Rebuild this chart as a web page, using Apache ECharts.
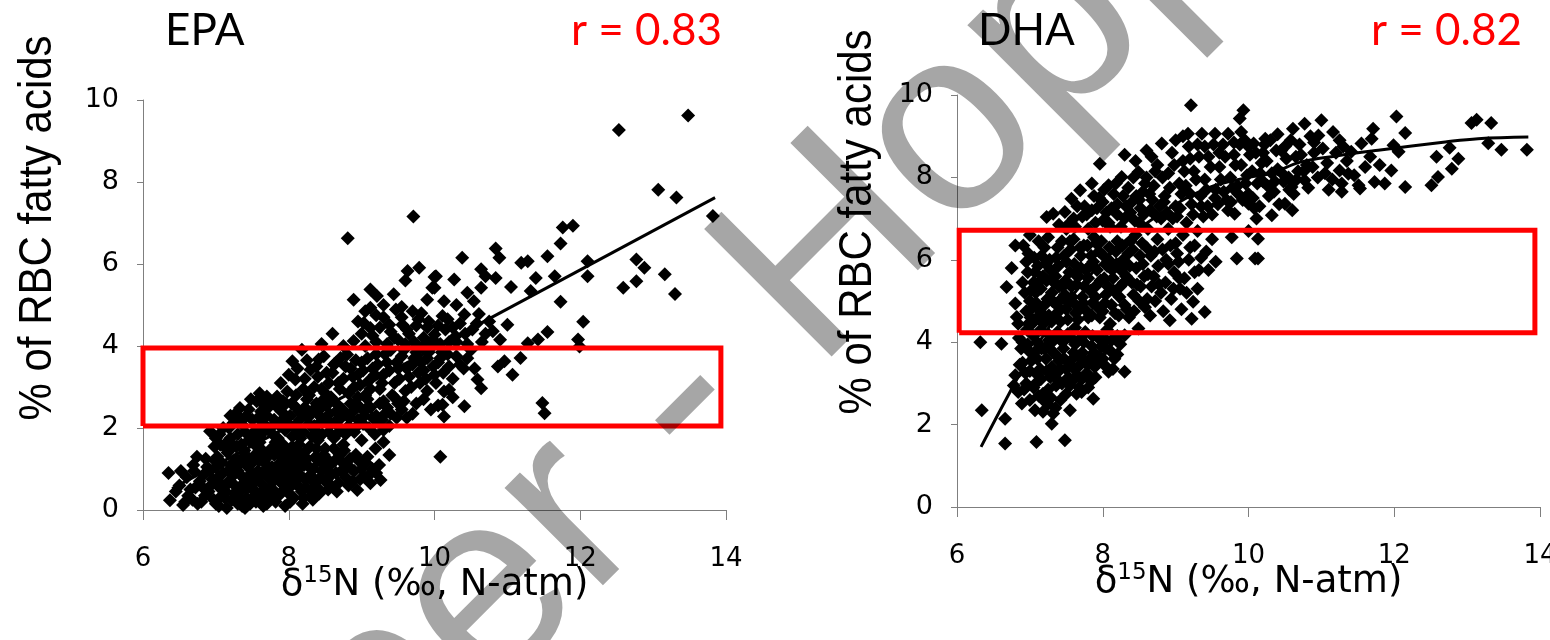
<!DOCTYPE html>
<html>
<head>
<meta charset="utf-8">
<script src="https://cdn.jsdelivr.net/npm/echarts@6/dist/echarts.min.js"></script>
<style>
  html, body { margin: 0; padding: 0; background: #fff; }
  #chart { width: 1550px; height: 640px; }
</style>
</head>
<body>
<div id="chart"></div>
<script>
// values: [δ15N, % of RBC fatty acids]
const epaPoints = [
  [6.37,0.24],[6.35,0.90],[6.55,0.12],[6.62,0.35],[6.69,1.10],[6.83,0.86],[6.72,0.55],[6.8,0.2],[6.9,0.45],[6.95,0.75],
  [6.88,1.05],[7.0,0.15],[7.05,0.55],[7.1,0.9],[7.02,1.3],[7.12,0.3],[7.18,0.7],[7.2,1.1],[7.25,0.4],[7.3,0.15],
  [7.3,0.95],[7.35,0.6],[7.38,1.3],[7.42,0.3],[7.45,0.8],[7.5,1.15],[7.5,0.5],[7.55,0.2],[7.58,0.95],[7.6,1.45],
  [7.62,0.65],[7.68,0.35],[7.7,1.1],[7.72,0.8],[7.78,0.5],[7.8,1.35],[7.82,0.2],[7.85,0.95],[7.9,0.65],[7.92,1.6],
  [7.95,1.2],[8.0,0.4],[8.02,0.85],[8.08,1.4],[8.12,0.6],[8.15,1.05],[8.2,0.3],[8.25,1.25],[8.3,0.49],[8.3,0.85],
  [8.38,1.5],[8.45,0.95],[8.5,0.7],[8.6,0.57],[8.55,1.2],[8.65,0.9],[8.7,1.35],[8.8,1.05],[8.94,0.49],[8.9,0.95],
  [9.0,1.0],[9.1,0.85],[9.26,0.73],[9.24,1.10],[9.19,1.5],[9.38,1.34],[9.3,1.66],[7.15,0.05],[7.4,0.05],[7.65,0.1],
  [7.95,0.1],[6.98,1.55],[7.28,1.55],[7.45,1.7],[6.5,0.6],[6.6,0.8],[10.08,1.3],
  [6.75,0.15],[6.78,0.7],[6.85,0.35],[6.92,0.95],[6.97,0.25],[7.03,0.8],[7.08,0.35],[7.08,1.15],[7.14,0.6],[7.16,1.4],
  [7.22,0.25],[7.24,0.85],[7.28,1.25],[7.33,0.45],[7.36,0.1],[7.4,0.75],[7.44,1.05],[7.47,0.15],[7.52,0.65],[7.54,1.35],
  [7.57,0.4],[7.63,0.9],[7.66,1.2],[7.7,0.15],[7.74,0.55],[7.76,1.5],[7.8,0.85],[7.86,0.35],[7.88,1.15],[7.93,0.8],
  [7.97,1.45],[8.02,0.2],[8.04,0.6],[8.06,1.1],[8.1,0.9],[8.14,1.6],[8.18,0.45],[8.22,0.75],[8.24,1.45],[8.28,1.05],
  [8.33,0.25],[8.36,0.65],[8.4,1.2],[8.42,0.4],[8.48,1.35],[8.52,1.0],[8.58,0.85],[8.62,1.5],[8.68,0.65],[8.74,1.15],
  [8.78,0.8],[8.84,1.25],[8.88,0.7],[8.96,1.2],[9.04,0.8],[9.08,1.3],[9.15,1.0],[6.65,0.5],[6.58,0.2],[6.7,0.95],
  [7.0,1.05],[7.35,1.6],[7.6,1.65],[7.82,1.65],[8.05,1.55],
  [6.45,0.45],[6.52,0.95],[6.68,0.25],[6.74,1.3],[6.82,0.55],[6.86,1.25],[6.93,0.6],[6.99,1.2],[7.04,0.1],[7.06,0.65],
  [7.11,1.55],[7.13,0.45],[7.17,0.95],[7.21,1.5],[7.26,0.6],[7.27,1.0],[7.31,0.3],[7.34,1.15],[7.37,0.8],[7.39,1.45],
  [7.43,0.55],[7.46,1.25],[7.49,0.9],[7.51,0.3],[7.53,1.6],[7.56,0.75],[7.59,1.2],[7.61,0.25],[7.64,1.45],[7.67,0.5],
  [7.69,0.9],[7.71,1.3],[7.73,0.3],[7.77,1.05],[7.79,0.7],[7.83,0.4],[7.84,1.5],[7.87,0.75],[7.89,1.3],[7.91,0.45],
  [7.94,1.0],[7.99,0.6],[8.01,1.3],[8.03,1.0],[8.07,0.3],[8.09,0.75],[8.11,1.2],[8.16,0.85],[8.17,1.35],[8.19,0.15],
  [8.21,1.1],[8.23,0.55],[8.27,0.8],[8.29,1.55],[8.31,0.35],[8.34,1.0],[8.37,1.3],[8.39,0.55],[8.44,0.8],[8.46,1.15],
  [8.5,1.5],[8.54,0.5],[8.57,1.1],[8.63,1.2],[8.66,0.45],[8.72,0.95],[8.76,1.45],[8.82,0.6],[8.86,1.0],[8.92,1.35],
  [8.98,0.75],[9.06,1.15],[9.12,0.65],[9.2,0.9],
  [6.92,1.92],[7.06,1.59],[7.2,1.75],[7.24,2.12],[7.33,2.49],[7.4,1.9],[7.5,2.2],[7.56,2.65],[7.6,1.8],[7.7,2.77],
  [7.7,2.3],[7.75,2.0],[7.84,2.77],[7.85,1.75],[7.9,2.4],[7.98,2.89],[8.0,2.1],[8.05,1.8],[8.1,2.5],[8.15,2.2],
  [8.2,1.9],[8.25,2.7],[8.3,2.35],[8.35,2.05],[8.4,1.7],[8.45,2.5],[8.5,2.2],[8.55,1.9],[8.6,2.7],[8.65,2.4],
  [8.7,2.0],[8.75,1.6],[8.8,2.3],[8.85,2.6],[8.9,1.9],[8.95,2.2],[9.0,1.7],[9.05,2.45],[9.1,2.0],[9.2,2.3],
  [9.3,1.95],[9.35,2.5],
  [7.0,1.75],[7.1,2.0],[7.15,1.65],[7.3,1.85],[7.35,2.2],[7.45,2.45],[7.55,1.95],[7.62,2.4],[7.66,2.1],[7.8,2.2],
  [7.82,2.55],[7.95,1.95],[7.96,2.6],[8.02,2.3],[8.12,1.95],[8.18,2.35],[8.28,2.1],[8.32,1.8],[8.38,2.6],[8.42,2.3],
  [8.52,2.55],[8.58,2.1],[8.62,1.75],[8.68,2.55],[8.72,2.25],[8.82,2.05],[8.88,2.4],[8.98,2.5],[9.02,2.1],[9.08,2.7],
  [9.15,2.25],[9.25,2.6],[9.28,2.2],[9.4,2.35],[9.45,2.75],[9.55,2.45],[7.2,2.3],[7.48,2.7],[7.6,2.85],[7.75,2.65],
  [7.05,1.85],[7.18,2.0],[7.22,1.6],[7.27,2.35],[7.38,2.05],[7.42,2.3],[7.52,1.8],[7.58,2.25],[7.64,2.6],[7.68,1.95],
  [7.72,2.5],[7.78,1.85],[7.88,2.05],[7.92,2.65],[7.94,2.25],[8.04,2.6],[8.08,2.05],[8.14,2.4],[8.16,1.75],[8.22,2.5],
  [8.26,2.25],[8.34,2.45],[8.36,1.95],[8.44,2.15],[8.46,1.85],[8.48,2.7],[8.56,2.35],[8.64,2.15],[8.66,1.85],[8.74,2.45],
  [8.78,1.85],[8.84,2.25],[8.92,2.6],[8.94,2.05],[9.04,2.3],[9.12,2.5],[9.18,1.85],[9.22,2.15],[9.32,2.35],[9.38,2.05],
  [9.48,2.25],[9.58,2.65],[9.62,2.25],
  [7.89,3.10],[8.09,3.18],[8.05,3.63],[8.18,3.91],[8.3,3.42],[8.41,3.67],[8.62,3.55],[8.71,3.71],[8.80,3.79],[8.2,2.95],
  [8.35,3.0],[8.4,3.25],[8.5,2.85],[8.55,3.1],[8.6,3.35],[8.7,2.95],[8.75,3.2],[8.85,3.45],[8.9,3.0],[8.95,3.3],
  [9.0,3.6],[9.05,2.8],[9.1,3.15],[9.15,3.45],[9.2,3.8],[9.25,2.95],[9.3,3.3],[9.35,3.6],[9.4,3.9],[9.45,3.1],
  [9.5,3.45],[9.55,3.75],[9.6,2.9],[9.65,3.25],[9.7,3.55],[9.75,3.85],[9.8,3.1],[9.85,3.4],[9.9,3.7],[9.95,3.95],
  [10.0,3.3],[10.05,3.6],[10.1,3.85],[10.13,2.89],[10.2,2.93],[10.11,2.57],[10.13,2.28],[10.41,2.53],[10.59,3.18],[10.64,2.97],
  [9.5,2.6],[9.7,2.35],[9.85,2.7],[9.95,2.45],[9.3,2.65],[8.95,2.75],[10.2,3.5],[10.3,3.75],[10.4,3.45],[10.5,3.9],
  [10.87,3.50],[10.96,3.63],[11.18,3.71],[11.07,3.30],[11.48,2.61],[11.51,2.36],
  [8.0,3.3],[8.1,2.8],[8.12,3.45],[8.22,3.2],[8.25,3.65],[8.28,2.8],[8.38,3.5],[8.45,2.95],[8.48,3.75],[8.52,3.35],
  [8.58,2.75],[8.65,3.6],[8.68,3.1],[8.78,3.5],[8.82,2.85],[8.88,3.25],[8.92,3.65],[8.98,3.05],[9.02,3.4],[9.08,3.7],
  [9.12,2.95],[9.18,3.3],[9.22,3.55],[9.28,3.1],[9.32,3.8],[9.38,3.4],[9.42,2.8],[9.48,3.6],[9.52,3.2],[9.58,3.9],
  [9.62,3.45],[9.68,3.0],[9.72,3.7],[9.78,3.35],[9.82,3.6],[9.88,3.2],[9.92,3.85],[9.98,3.5],[10.02,3.1],[10.08,3.7],
  [10.12,3.35],[10.18,3.8],[10.25,3.2],[10.35,3.55],[10.45,3.7],[10.55,3.45],[10.25,2.75],[9.9,2.9],[9.75,2.6],[10.05,2.55],
  [8.89,4.12],[9.03,4.56],[9.12,4.44],[9.38,4.52],[9.56,4.52],[9.78,4.65],[9.12,4.93],[9.47,4.89],[9.0,4.3],[9.2,4.1],
  [9.3,4.7],[9.45,4.2],[9.6,4.05],[9.65,4.3],[9.7,4.85],[9.85,4.2],[9.9,4.45],[9.95,4.0],[10.0,4.28],[10.11,4.73],
  [10.13,5.09],[10.29,4.24],[10.41,4.77],[10.52,4.40],[10.61,4.78],[10.54,5.09],[10.8,4.36],[11.0,4.52],[10.2,4.1],[10.35,4.55],
  [10.15,4.4],[10.65,4.1],[11.28,4.07],[11.42,4.16],[11.55,4.34],[11.97,4.16],[11.99,3.99],[12.04,4.59],[8.75,4.0],[9.8,3.95],
  [9.05,4.0],[9.15,4.25],[9.25,4.45],[9.35,4.05],[9.4,4.35],[9.5,4.15],[9.55,4.7],[9.62,4.4],[9.72,4.1],[9.75,4.5],
  [9.82,4.8],[9.88,4.05],[9.92,4.6],[9.98,4.15],[10.05,4.5],[10.08,4.05],[10.18,4.65],[10.25,4.45],[10.3,4.1],[10.42,4.3],
  [10.45,4.05],[10.58,4.55],[10.7,4.3],[10.75,4.6],[10.9,4.15],[8.95,4.6],[9.2,4.75],[9.05,4.85],
  [8.81,6.63],[9.71,7.16],[9.79,5.91],[9.63,5.83],[9.6,5.6],[10.0,5.68],[8.89,5.13],[9.12,5.38],[9.21,5.22],[9.44,5.26],
  [9.9,5.13],[9.97,5.42],[10.02,5.7],[10.0,5.42],[10.27,5.62],[10.38,6.15],[10.64,5.87],[10.7,5.7],[10.64,5.42],[10.84,5.66],
  [10.84,6.38],[10.89,6.15],[11.05,5.44],[11.19,6.03],[11.28,6.07],[11.39,5.66],[11.32,5.34],[11.55,6.19],[11.65,5.7],[11.73,6.50],
  [11.76,6.89],[11.90,6.93],[11.73,5.08],[12.1,6.07],[12.1,5.7],[12.53,9.27],[12.59,5.42],[12.77,5.58],[12.77,6.11],[12.88,5.91],
  [13.07,7.81],[13.16,5.75],[13.3,5.27],[13.32,7.62],[13.48,9.62],[13.82,7.17],[9.3,5.0],[9.55,4.95],[10.3,5.0],[10.45,5.3],
  [8.6,4.3],[8.45,4.05]
];

const dhaPoints = [
  [6.34,2.35],[6.66,1.54],[7.09,1.58],[7.48,1.62],[6.66,2.14],[6.84,2.79],[6.89,2.51],[7.07,2.35],[7.18,2.31],[7.21,2.55],
  [7.30,2.02],[7.32,2.27],[7.55,2.35],[7.71,2.79],[7.87,2.63],[7.89,3.40],[8.08,3.28],[8.30,3.28],[6.32,4.0],[6.61,3.96],
  [6.95,3.0],[7.0,3.3],[7.05,2.9],[7.1,3.6],[7.15,3.1],[7.2,3.85],[7.25,2.85],[7.3,3.4],[7.35,3.7],[7.4,3.05],
  [7.45,4.0],[7.5,3.35],[7.55,2.95],[7.6,3.75],[7.65,3.2],[7.7,4.1],[7.75,3.55],[7.8,2.9],[7.85,3.9],[7.9,3.15],
  [7.95,3.65],[8.0,4.05],[8.1,3.8],[8.2,4.15],[6.9,3.5],[6.98,3.8],[7.05,4.15],[6.85,4.1],[7.15,4.3],[7.25,4.2],
  [7.4,3.55],[7.62,4.35],[7.12,2.7],[7.42,2.6],
  [6.8,3.2],[6.88,3.85],[6.92,2.85],[6.96,4.3],[7.02,3.55],[7.08,3.0],[7.1,4.0],[7.14,3.35],[7.18,2.75],[7.22,3.6],
  [7.26,4.05],[7.28,3.15],[7.32,3.75],[7.36,2.95],[7.38,4.25],[7.42,3.35],[7.46,3.85],[7.5,2.75],[7.52,4.2],[7.56,3.55],
  [7.58,3.05],[7.62,3.95],[7.66,3.4],[7.68,2.9],[7.72,3.75],[7.76,4.25],[7.78,3.25],[7.82,3.6],[7.86,4.15],[7.92,3.5],
  [7.98,3.9],[8.02,3.45],[8.06,4.3],[8.12,4.05],[8.16,3.6],[8.24,3.95],[7.0,2.6],[7.25,2.5],[7.35,2.4],[6.78,2.95],
  [6.9,4.0],
  [6.86,3.45],[6.94,3.25],[6.97,3.95],[7.03,4.45],[7.06,3.75],[7.11,3.2],[7.16,3.85],[7.19,4.45],[7.23,3.3],[7.27,3.85],
  [7.29,2.65],[7.33,4.05],[7.37,3.25],[7.41,4.15],[7.44,3.0],[7.47,3.6],[7.53,3.15],[7.57,4.1],[7.61,3.35],[7.64,2.75],
  [7.67,3.65],[7.71,3.1],[7.74,4.0],[7.79,3.45],[7.84,3.05],[7.88,3.75],[7.94,4.1],[8.0,3.6],[8.04,3.85],[8.14,3.35],
  [8.2,3.7],
  [6.80,6.35],[6.91,6.35],[6.68,5.34],[6.80,4.94],[6.82,4.61],[6.84,4.45],[7.07,5.7],[7.02,5.26],[7.16,6.1],[6.95,4.75],
  [7.0,5.0],[7.1,4.6],[7.12,5.45],[7.2,4.9],[7.22,5.9],[7.3,5.2],[7.3,4.5],[7.35,5.6],[7.38,6.3],[7.42,4.8],
  [7.45,5.35],[7.5,5.95],[7.52,4.55],[7.58,5.1],[7.6,6.5],[7.62,5.65],[7.68,4.85],[7.7,6.1],[7.75,5.35],[7.8,4.6],
  [7.82,5.85],[7.88,6.55],[7.9,5.1],[7.95,6.2],[8.0,4.75],[8.02,5.55],[8.08,6.0],[8.1,4.45],[8.15,5.25],[8.2,6.45],
  [8.25,5.75],[8.3,4.9],[8.35,6.15],[8.4,5.45],[8.45,6.6],[8.5,5.0],[8.55,5.9],[8.6,6.3],[8.65,4.65],[8.7,5.6],
  [8.75,6.5],[8.8,5.2],[8.9,5.9],[8.92,4.53],[9.0,6.4],[9.04,5.95],[9.06,5.30],[9.22,4.57],[9.24,4.98],[9.26,5.7],
  [9.26,6.35],[9.40,4.73],[8.05,4.05],[8.30,4.17],[8.49,4.33],[9.1,6.6],[9.5,6.5],[9.77,6.55],[9.84,6.03],[10.13,6.03],
  [10.13,6.51],[10.09,6.03],[7.0,6.6],[6.75,5.8],[7.25,6.55],
  [6.9,5.45],[6.95,5.95],[6.98,4.45],[7.04,4.85],[7.06,6.05],[7.08,5.2],[7.14,4.75],[7.18,5.6],[7.2,6.3],[7.24,5.05],
  [7.26,4.65],[7.28,5.75],[7.34,4.95],[7.36,6.05],[7.4,5.35],[7.42,4.5],[7.44,6.45],[7.48,5.15],[7.5,4.8],[7.54,5.7],
  [7.56,6.25],[7.6,4.95],[7.64,5.4],[7.66,4.55],[7.7,5.8],[7.72,5.1],[7.74,6.35],[7.78,4.75],[7.8,5.55],[7.84,6.1],
  [7.86,4.95],[7.9,5.35],[7.92,5.75],[7.96,4.6],[7.98,6.45],[8.04,5.15],[8.06,5.85],[8.12,4.9],[8.14,5.55],[8.18,6.2],
  [8.22,4.65],[8.24,5.35],[8.28,6.0],[8.32,5.6],[8.36,4.6],[8.38,6.45],[8.42,5.15],[8.46,5.8],[8.52,5.35],[8.54,6.4],
  [8.58,4.85],[8.62,5.65],[8.66,6.1],[8.72,5.0],[8.76,5.85],[8.82,6.25],[8.86,5.45],[8.94,5.05],[8.98,5.7],[9.02,6.15],
  [9.08,4.8],[9.12,5.55],[9.18,6.0],[9.3,5.3],[9.35,6.05],[9.45,5.75],[9.55,5.95],[7.12,6.45],[6.98,6.15],
  [6.93,5.2],[6.97,5.7],[7.01,4.6],[7.05,5.45],[7.09,4.95],[7.11,5.85],[7.15,5.3],[7.19,4.6],[7.23,5.5],[7.27,6.0],
  [7.31,5.0],[7.33,5.45],[7.37,4.7],[7.39,5.85],[7.43,5.05],[7.47,6.1],[7.49,5.5],[7.53,4.95],[7.55,6.45],[7.57,5.35],
  [7.61,5.9],[7.63,4.7],[7.67,5.6],[7.69,6.3],[7.73,4.95],[7.77,5.75],[7.79,6.35],[7.83,5.25],[7.85,4.65],[7.87,5.95],
  [7.91,6.4],[7.93,4.85],[7.97,5.5],[8.01,6.1],[8.03,4.95],[8.07,5.35],[8.09,6.3],[8.13,5.75],[8.17,4.7],[8.19,5.9],
  [8.23,5.1],[8.27,6.35],[8.29,5.45],[8.33,4.8],[8.37,5.85],[8.41,6.25],[8.43,4.75],[8.47,5.4],[8.51,6.1],[8.57,5.6],
  [8.61,5.05],[8.67,5.35],[8.71,6.2],[8.77,5.4],[8.83,4.75],[8.87,6.0],[8.93,6.35],[8.97,5.3],[9.05,5.55],[9.15,5.2],
  [9.2,6.3],[9.32,5.75],[9.42,6.2],
  [7.23,7.04],[7.32,7.12],[7.48,7.16],[7.57,7.48],[7.69,7.69],[7.85,7.85],[7.96,8.33],[8.08,7.81],[8.26,8.01],[8.49,8.13],
  [8.67,8.5],[8.81,8.82],[9.17,9.06],[9.36,9.06],[9.54,9.06],[9.72,9.06],[9.21,9.75],[9.93,9.63],[9.88,9.43],[9.81,7.12],
  [10.0,7.36],[7.4,6.85],[7.6,7.0],[7.75,7.3],[7.9,6.9],[7.95,7.5],[8.05,7.15],[8.1,6.8],[8.15,7.6],[8.2,7.35],
  [8.3,7.0],[8.35,7.75],[8.4,7.4],[8.5,6.9],[8.55,7.65],[8.6,8.0],[8.65,7.2],[8.7,7.8],[8.75,8.3],[8.8,7.0],
  [8.85,7.55],[8.9,8.1],[8.95,8.6],[9.0,7.3],[9.05,7.85],[9.1,8.4],[9.15,6.9],[9.2,7.6],[9.25,8.15],[9.3,8.8],
  [9.35,7.3],[9.4,7.95],[9.45,8.5],[9.5,7.1],[9.55,7.7],[9.6,8.25],[9.65,8.8],[9.7,7.45],[9.75,8.0],[9.8,8.55],
  [9.85,7.8],[9.9,8.3],[9.95,8.9],[10.0,7.6],[10.05,8.15],[10.1,8.6],[10.15,7.3],[10.2,7.9],[10.25,8.4],[10.3,8.9],
  [10.32,7.08],[10.11,7.0],[10.35,7.65],[10.4,8.2],[10.45,8.65],[10.5,7.36],[10.55,8.0],[10.59,7.77],[10.61,9.18],[10.65,8.5],
  [10.7,8.8],[10.77,7.93],[10.77,9.30],[10.8,8.3],[10.9,8.6],[10.96,9.02],[11.0,9.39],[11.05,8.1],[11.16,9.1],[11.25,8.9],
  [11.25,8.17],[11.28,7.85],[11.28,7.65],[11.37,8.09],[11.41,8.62],[11.51,7.81],[11.53,7.73],[11.55,8.82],[11.67,8.5],[11.69,8.94],
  [11.71,9.18],[11.73,7.89],[11.87,7.85],[11.96,8.17],[11.99,8.78],[12.03,9.48],[12.06,8.62],[12.15,9.08],[12.15,7.77],[12.51,7.81],
  [12.58,8.50],[12.6,8.01],[12.76,8.72],[12.79,8.21],[12.88,8.45],[13.06,9.32],[13.13,9.40],[13.29,8.83],[13.33,9.32],[13.47,8.67],
  [13.82,8.67],[10.23,8.94],[10.07,8.82],[9.0,8.9],[8.45,8.4],[8.3,8.55],[7.85,7.2],[7.5,6.75],[10.0,6.7],[9.3,6.7],
  [8.9,6.75],[10.6,7.2],[11.1,7.7],
  [7.62,6.8],[7.72,7.05],[7.8,6.75],[7.88,7.55],[8.0,6.95],[8.02,7.7],[8.12,7.25],[8.18,7.85],[8.25,6.8],[8.28,7.55],
  [8.38,7.15],[8.42,8.0],[8.46,7.55],[8.52,7.25],[8.58,7.85],[8.62,6.75],[8.68,7.45],[8.72,8.15],[8.78,7.3],[8.82,8.0],
  [8.88,7.15],[8.92,7.75],[8.98,8.3],[9.02,7.05],[9.08,7.6],[9.12,8.15],[9.18,8.75],[9.22,7.35],[9.28,7.95],[9.32,8.5],
  [9.38,7.05],[9.42,7.7],[9.48,8.25],[9.52,8.8],[9.58,7.35],[9.62,7.95],[9.68,8.5],[9.72,7.2],[9.78,7.75],[9.82,8.3],
  [9.88,8.8],[9.92,7.45],[9.98,8.05],[10.02,8.55],[10.08,7.25],[10.12,7.85],[10.18,8.35],[10.22,8.8],[10.28,7.55],[10.32,8.1],
  [10.38,8.65],[10.42,7.35],[10.48,7.9],[10.52,8.45],[10.58,8.9],[10.62,7.6],[10.68,8.15],[10.72,8.55],[10.82,7.75],[10.85,9.0],
  [10.88,8.25],[10.95,8.0],[11.02,8.7],[11.08,8.35],[11.15,7.95],[11.2,8.6],[11.35,8.4],[11.45,8.05],[11.6,8.25],[11.8,8.3],
  [9.1,9.0],[8.6,8.65],[9.9,9.1],[10.4,9.05],
  [7.55,6.9],[7.65,7.3],[7.78,7.1],[7.92,7.25],[8.0,7.4],[8.08,6.9],[8.2,7.1],[8.32,7.3],[8.44,6.95],[8.5,7.45],
  [8.56,7.1],[8.64,7.6],[8.74,7.05],[8.84,7.4],[8.96,7.0],[9.06,7.25],[9.14,7.8],[9.24,7.1],[9.34,7.55],[9.44,7.3],
  [9.54,7.5],[9.66,7.65],[9.76,7.4],[9.86,7.6],[9.96,7.85],[10.06,7.5],[10.16,8.1],[10.26,7.8],[10.36,7.9],[10.46,8.1],
  [10.56,7.7],[10.66,7.95],[10.76,8.15],[9.2,8.45],[9.4,8.75],[9.6,8.6],[9.8,8.85],[10.0,8.75],[10.2,8.6],[10.5,8.75],
  [10.9,8.85],[11.3,8.75]
];

// fitted trend lines as drawn in the figure
const epaTrend = [[6.4,0.52],[13.85,7.62]];
const dhaTrend = [[6.33,1.46],[6.7,2.7],[7.0,3.65],[7.5,4.95],[8.0,5.95],[8.5,6.75],[9.0,7.35],[9.5,7.78],
  [10.0,8.0],[10.31,8.1],[10.71,8.37],[11.2,8.52],[11.78,8.66],[12.7,8.86],[13.15,8.94],[13.84,8.98]];

// highlighted ranges [xmin, ymin, xmax, ymax]
const epaBox = [6.0, 2.05, 13.93, 3.95];
const dhaBox = [6.03, 4.23, 13.93, 6.72];

const titles = ['EPA', 'DHA'];
const rValues = ['r = 0.83', 'r = 0.82'];
const yName = '% of RBC fatty acids';
const watermark = 'Hopper - Hopper';

const tickFont = 'DejaVu Sans, Liberation Sans, sans-serif';
const chart = echarts.init(document.getElementById('chart'));

function boxPath(b) {
  return [[b[0], b[1]], [b[2], b[1]], [b[2], b[3]], [b[0], b[3]], [b[0], b[1]]];
}

function xAxis(i) {
  return {
    type: 'value', gridIndex: i, min: 6, max: 14, interval: 2,
    axisLine: { lineStyle: { color: '#7f7f7f', width: 1 } },
    axisTick: { length: 10, lineStyle: { color: '#7f7f7f' } },
    splitLine: { show: false },
    axisLabel: { margin: 36, fontSize: 26, color: '#000', fontFamily: tickFont },
    name: '{d|δ}{s|15}{n|N (‰, N-atm)}',
    nameLocation: 'middle', nameGap: 55, nameMoveOverlap: false,
    nameTextStyle: {
      rich: {
        d: { fontSize: 37, fontFamily: tickFont, color: '#000' },
        s: { fontSize: 23, fontFamily: tickFont, color: '#000', verticalAlign: 'top', lineHeight: 40 },
        n: { fontSize: 37, fontFamily: tickFont, color: '#000' }
      }
    }
  };
}

function yAxis(i) {
  return {
    type: 'value', gridIndex: i, min: 0, max: 10, interval: 2,
    axisLine: { show: true, lineStyle: { color: '#7f7f7f', width: 1 } },
    axisTick: { show: true, length: 6, lineStyle: { color: '#7f7f7f' } },
    splitLine: { show: false },
    axisLabel: { margin: 24, fontSize: 27, color: '#000', fontFamily: tickFont }
  };
}

function seriesFor(i, points, trend, box) {
  return [
    {
      type: 'scatter', xAxisIndex: i, yAxisIndex: i, data: points,
      symbol: 'diamond', symbolSize: 14,
      itemStyle: { color: '#000', opacity: 1 }, z: 2
    },
    {
      type: 'line', xAxisIndex: i, yAxisIndex: i, data: trend,
      symbol: 'none', smooth: i === 1 ? 0.4 : false,
      lineStyle: { color: '#000', width: 3 }, z: 3
    },
    {
      type: 'line', xAxisIndex: i, yAxisIndex: i, data: boxPath(box),
      symbol: 'none', lineStyle: { color: '#ff0000', width: 5, join: 'miter' }, z: 4
    }
  ];
}

function label(x, y, text, opts) {
  return {
    type: 'text', x: x, y: y, rotation: opts.rotation || 0,
    scaleX: opts.scaleX || 1, scaleY: opts.scaleY || 1, z: opts.z || 10,
    style: Object.assign({
      text: text, fill: '#000', fontSize: 44, fontFamily: 'Lato',
      align: 'left', verticalAlign: 'middle'
    }, opts.style || {})
  };
}

const yNameStyle = { align: 'center', fontSize: 42, fontFamily: 'Liberation Sans' };

chart.setOption({
  backgroundColor: '#fff',
  animation: false,
  grid: [
    { left: 143, top: 100, width: 583, height: 410, outerBoundsMode: 'none', containLabel: false },
    { left: 957, top: 95, width: 583, height: 412, outerBoundsMode: 'none', containLabel: false }
  ],
  xAxis: [xAxis(0), xAxis(1)],
  yAxis: [yAxis(0), yAxis(1)],
  series: [].concat(
    seriesFor(0, epaPoints, epaTrend, epaBox),
    seriesFor(1, dhaPoints, dhaTrend, dhaBox)
  ),
  graphic: [
    label(165, 31, titles[0], {}),
    label(722, 31, rValues[0], { style: { fill: '#ff0000', align: 'right' } }),
    label(978, 31, titles[1], {}),
    label(1522, 31, rValues[1], { style: { fill: '#ff0000', align: 'right' } }),
    label(38, 228, yName, { rotation: Math.PI / 2, scaleY: 1.12, style: yNameStyle }),
    label(858, 222, yName, { rotation: Math.PI / 2, scaleY: 1.12, style: yNameStyle }),
    // diagonal watermark
    label(683, 403, watermark, {
      rotation: Math.PI / 4, z: 100,
      style: { align: 'center', fontSize: 262, fontFamily: 'Liberation Sans', fill: 'rgba(0,0,0,0.35)' }
    })
  ]
});

window.addEventListener('resize', () => chart.resize());
</script>
</body>
</html>
